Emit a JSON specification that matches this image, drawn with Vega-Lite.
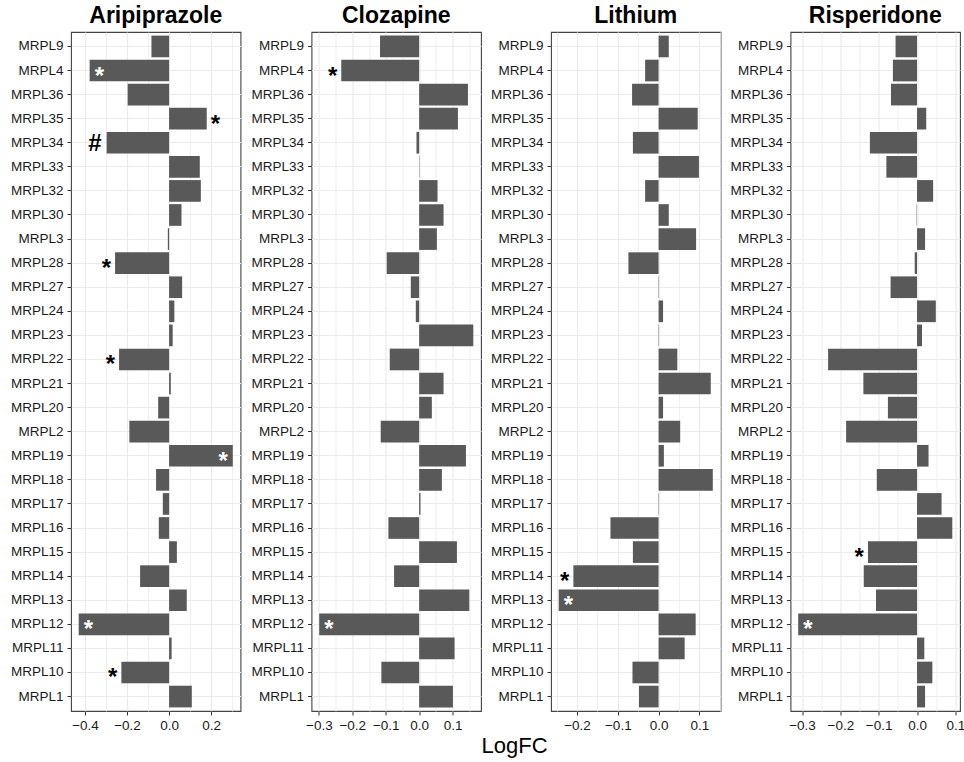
{
"$schema": "https://vega.github.io/schema/vega-lite/v6.json",
"background": "white",
"padding": {"left": 9, "top": 4, "right": 2, "bottom": 2},
"title": {"text": "LogFC", "orient": "bottom", "anchor": "middle", "frame": "bounds", "baseline": "top", "fontSize": 22, "fontWeight": "normal", "color": "black", "offset": 4, "dx": 27},
"data": {"values": [
{"drug":"Aripiprazole","gene":"MRPL9","logfc":-0.084,"sig":""},
{"drug":"Aripiprazole","gene":"MRPL4","logfc":-0.378,"sig":"*"},
{"drug":"Aripiprazole","gene":"MRPL36","logfc":-0.197,"sig":""},
{"drug":"Aripiprazole","gene":"MRPL35","logfc":0.179,"sig":"*"},
{"drug":"Aripiprazole","gene":"MRPL34","logfc":-0.297,"sig":"#"},
{"drug":"Aripiprazole","gene":"MRPL33","logfc":0.146,"sig":""},
{"drug":"Aripiprazole","gene":"MRPL32","logfc":0.151,"sig":""},
{"drug":"Aripiprazole","gene":"MRPL30","logfc":0.059,"sig":""},
{"drug":"Aripiprazole","gene":"MRPL3","logfc":-0.006,"sig":""},
{"drug":"Aripiprazole","gene":"MRPL28","logfc":-0.257,"sig":"*"},
{"drug":"Aripiprazole","gene":"MRPL27","logfc":0.062,"sig":""},
{"drug":"Aripiprazole","gene":"MRPL24","logfc":0.025,"sig":""},
{"drug":"Aripiprazole","gene":"MRPL23","logfc":0.017,"sig":""},
{"drug":"Aripiprazole","gene":"MRPL22","logfc":-0.238,"sig":"*"},
{"drug":"Aripiprazole","gene":"MRPL21","logfc":0.008,"sig":""},
{"drug":"Aripiprazole","gene":"MRPL20","logfc":-0.052,"sig":""},
{"drug":"Aripiprazole","gene":"MRPL2","logfc":-0.189,"sig":""},
{"drug":"Aripiprazole","gene":"MRPL19","logfc":0.303,"sig":"*"},
{"drug":"Aripiprazole","gene":"MRPL18","logfc":-0.062,"sig":""},
{"drug":"Aripiprazole","gene":"MRPL17","logfc":-0.030,"sig":""},
{"drug":"Aripiprazole","gene":"MRPL16","logfc":-0.049,"sig":""},
{"drug":"Aripiprazole","gene":"MRPL15","logfc":0.037,"sig":""},
{"drug":"Aripiprazole","gene":"MRPL14","logfc":-0.138,"sig":""},
{"drug":"Aripiprazole","gene":"MRPL13","logfc":0.084,"sig":""},
{"drug":"Aripiprazole","gene":"MRPL12","logfc":-0.430,"sig":"*"},
{"drug":"Aripiprazole","gene":"MRPL11","logfc":0.012,"sig":""},
{"drug":"Aripiprazole","gene":"MRPL10","logfc":-0.227,"sig":"*"},
{"drug":"Aripiprazole","gene":"MRPL1","logfc":0.108,"sig":""},
{"drug":"Clozapine","gene":"MRPL9","logfc":-0.117,"sig":""},
{"drug":"Clozapine","gene":"MRPL4","logfc":-0.233,"sig":"*"},
{"drug":"Clozapine","gene":"MRPL36","logfc":0.146,"sig":""},
{"drug":"Clozapine","gene":"MRPL35","logfc":0.116,"sig":""},
{"drug":"Clozapine","gene":"MRPL34","logfc":-0.008,"sig":""},
{"drug":"Clozapine","gene":"MRPL33","logfc":0.001,"sig":""},
{"drug":"Clozapine","gene":"MRPL32","logfc":0.055,"sig":""},
{"drug":"Clozapine","gene":"MRPL30","logfc":0.073,"sig":""},
{"drug":"Clozapine","gene":"MRPL3","logfc":0.053,"sig":""},
{"drug":"Clozapine","gene":"MRPL28","logfc":-0.097,"sig":""},
{"drug":"Clozapine","gene":"MRPL27","logfc":-0.025,"sig":""},
{"drug":"Clozapine","gene":"MRPL24","logfc":-0.010,"sig":""},
{"drug":"Clozapine","gene":"MRPL23","logfc":0.162,"sig":""},
{"drug":"Clozapine","gene":"MRPL22","logfc":-0.088,"sig":""},
{"drug":"Clozapine","gene":"MRPL21","logfc":0.073,"sig":""},
{"drug":"Clozapine","gene":"MRPL20","logfc":0.038,"sig":""},
{"drug":"Clozapine","gene":"MRPL2","logfc":-0.115,"sig":""},
{"drug":"Clozapine","gene":"MRPL19","logfc":0.140,"sig":""},
{"drug":"Clozapine","gene":"MRPL18","logfc":0.068,"sig":""},
{"drug":"Clozapine","gene":"MRPL17","logfc":0.004,"sig":""},
{"drug":"Clozapine","gene":"MRPL16","logfc":-0.092,"sig":""},
{"drug":"Clozapine","gene":"MRPL15","logfc":0.113,"sig":""},
{"drug":"Clozapine","gene":"MRPL14","logfc":-0.075,"sig":""},
{"drug":"Clozapine","gene":"MRPL13","logfc":0.150,"sig":""},
{"drug":"Clozapine","gene":"MRPL12","logfc":-0.299,"sig":"*"},
{"drug":"Clozapine","gene":"MRPL11","logfc":0.106,"sig":""},
{"drug":"Clozapine","gene":"MRPL10","logfc":-0.113,"sig":""},
{"drug":"Clozapine","gene":"MRPL1","logfc":0.101,"sig":""},
{"drug":"Lithium","gene":"MRPL9","logfc":0.025,"sig":""},
{"drug":"Lithium","gene":"MRPL4","logfc":-0.033,"sig":""},
{"drug":"Lithium","gene":"MRPL36","logfc":-0.065,"sig":""},
{"drug":"Lithium","gene":"MRPL35","logfc":0.096,"sig":""},
{"drug":"Lithium","gene":"MRPL34","logfc":-0.063,"sig":""},
{"drug":"Lithium","gene":"MRPL33","logfc":0.099,"sig":""},
{"drug":"Lithium","gene":"MRPL32","logfc":-0.033,"sig":""},
{"drug":"Lithium","gene":"MRPL30","logfc":0.025,"sig":""},
{"drug":"Lithium","gene":"MRPL3","logfc":0.092,"sig":""},
{"drug":"Lithium","gene":"MRPL28","logfc":-0.074,"sig":""},
{"drug":"Lithium","gene":"MRPL27","logfc":-0.001,"sig":""},
{"drug":"Lithium","gene":"MRPL24","logfc":0.011,"sig":""},
{"drug":"Lithium","gene":"MRPL23","logfc":0.001,"sig":""},
{"drug":"Lithium","gene":"MRPL22","logfc":0.046,"sig":""},
{"drug":"Lithium","gene":"MRPL21","logfc":0.128,"sig":""},
{"drug":"Lithium","gene":"MRPL20","logfc":0.011,"sig":""},
{"drug":"Lithium","gene":"MRPL2","logfc":0.053,"sig":""},
{"drug":"Lithium","gene":"MRPL19","logfc":0.013,"sig":""},
{"drug":"Lithium","gene":"MRPL18","logfc":0.133,"sig":""},
{"drug":"Lithium","gene":"MRPL17","logfc":0.001,"sig":""},
{"drug":"Lithium","gene":"MRPL16","logfc":-0.118,"sig":""},
{"drug":"Lithium","gene":"MRPL15","logfc":-0.063,"sig":""},
{"drug":"Lithium","gene":"MRPL14","logfc":-0.209,"sig":"*"},
{"drug":"Lithium","gene":"MRPL13","logfc":-0.245,"sig":"*"},
{"drug":"Lithium","gene":"MRPL12","logfc":0.091,"sig":""},
{"drug":"Lithium","gene":"MRPL11","logfc":0.064,"sig":""},
{"drug":"Lithium","gene":"MRPL10","logfc":-0.064,"sig":""},
{"drug":"Lithium","gene":"MRPL1","logfc":-0.048,"sig":""},
{"drug":"Risperidone","gene":"MRPL9","logfc":-0.056,"sig":""},
{"drug":"Risperidone","gene":"MRPL4","logfc":-0.063,"sig":""},
{"drug":"Risperidone","gene":"MRPL36","logfc":-0.068,"sig":""},
{"drug":"Risperidone","gene":"MRPL35","logfc":0.024,"sig":""},
{"drug":"Risperidone","gene":"MRPL34","logfc":-0.123,"sig":""},
{"drug":"Risperidone","gene":"MRPL33","logfc":-0.080,"sig":""},
{"drug":"Risperidone","gene":"MRPL32","logfc":0.042,"sig":""},
{"drug":"Risperidone","gene":"MRPL30","logfc":-0.001,"sig":""},
{"drug":"Risperidone","gene":"MRPL3","logfc":0.021,"sig":""},
{"drug":"Risperidone","gene":"MRPL28","logfc":-0.006,"sig":""},
{"drug":"Risperidone","gene":"MRPL27","logfc":-0.069,"sig":""},
{"drug":"Risperidone","gene":"MRPL24","logfc":0.049,"sig":""},
{"drug":"Risperidone","gene":"MRPL23","logfc":0.013,"sig":""},
{"drug":"Risperidone","gene":"MRPL22","logfc":-0.232,"sig":""},
{"drug":"Risperidone","gene":"MRPL21","logfc":-0.140,"sig":""},
{"drug":"Risperidone","gene":"MRPL20","logfc":-0.076,"sig":""},
{"drug":"Risperidone","gene":"MRPL2","logfc":-0.185,"sig":""},
{"drug":"Risperidone","gene":"MRPL19","logfc":0.030,"sig":""},
{"drug":"Risperidone","gene":"MRPL18","logfc":-0.105,"sig":""},
{"drug":"Risperidone","gene":"MRPL17","logfc":0.064,"sig":""},
{"drug":"Risperidone","gene":"MRPL16","logfc":0.092,"sig":""},
{"drug":"Risperidone","gene":"MRPL15","logfc":-0.128,"sig":"*"},
{"drug":"Risperidone","gene":"MRPL14","logfc":-0.139,"sig":""},
{"drug":"Risperidone","gene":"MRPL13","logfc":-0.107,"sig":""},
{"drug":"Risperidone","gene":"MRPL12","logfc":-0.310,"sig":"*"},
{"drug":"Risperidone","gene":"MRPL11","logfc":0.019,"sig":""},
{"drug":"Risperidone","gene":"MRPL10","logfc":0.040,"sig":""},
{"drug":"Risperidone","gene":"MRPL1","logfc":0.021,"sig":""}
]},
"spacing": 6.5,
"hconcat": [
 {
  "width": 169.5, "height": 679,
  "title": {"text": "Aripiprazole"},
  "transform": [{"filter": "datum.drug == 'Aripiprazole'"}],
  "encoding": {"y": {"field": "gene", "type": "nominal", "sort": ["MRPL9","MRPL4","MRPL36","MRPL35","MRPL34","MRPL33","MRPL32","MRPL30","MRPL3","MRPL28","MRPL27","MRPL24","MRPL23","MRPL22","MRPL21","MRPL20","MRPL2","MRPL19","MRPL18","MRPL17","MRPL16","MRPL15","MRPL14","MRPL13","MRPL12","MRPL11","MRPL10","MRPL1"], "scale": {"paddingInner": 0.1, "paddingOuter": 0.15}, "axis": {"title": null}}},
  "layer": [
   {"mark": {"type": "bar", "color": "#595959"},
    "encoding": {"x": {"field": "logfc", "type": "quantitative", "scale": {"nice": false, "zero": true, "padding": 7.7},
      "axis": {"title": null, "tickCount": 30, "values": [-0.4,-0.3,-0.2,-0.1,0,0.1,0.2,0.3],
        "labelOpacity": {"condition": {"test": "abs(round(datum.value*10)) % 2 == 0", "value": 1}, "value": 0},
        "tickOpacity": {"condition": {"test": "abs(round(datum.value*10)) % 2 == 0", "value": 1}, "value": 0},
        "gridWidth": {"condition": {"test": "abs(round(datum.value*10)) % 2 == 0", "value": 1.2}, "value": 0.8}}}}},
   {"mark": {"type": "rule", "color": "black", "strokeWidth": 1.5}, "encoding": {"x": {"datum": 0, "type": "quantitative"}}},
   {"transform": [{"filter": "datum.sig == '*' && datum.logfc < 0 && datum.logfc > -0.28"}],
    "mark": {"type": "text", "align": "right", "dx": -4, "dy": 6, "color": "black"},
    "encoding": {"x": {"field": "logfc", "type": "quantitative"}, "text": {"field": "sig"}}},
   {"transform": [{"filter": "datum.sig == '*' && datum.logfc > 0 && datum.logfc < 0.28"}],
    "mark": {"type": "text", "align": "left", "dx": 4, "dy": 6, "color": "black"},
    "encoding": {"x": {"field": "logfc", "type": "quantitative"}, "text": {"field": "sig"}}},
   {"transform": [{"filter": "datum.sig == '*' && datum.logfc <= -0.28"}],
    "mark": {"type": "text", "align": "left", "dx": 5, "dy": 6, "color": "white"},
    "encoding": {"x": {"field": "logfc", "type": "quantitative"}, "text": {"field": "sig"}}},
   {"transform": [{"filter": "datum.sig == '*' && datum.logfc >= 0.28"}],
    "mark": {"type": "text", "align": "right", "dx": -5, "dy": 6, "color": "white"},
    "encoding": {"x": {"field": "logfc", "type": "quantitative"}, "text": {"field": "sig"}}},
   {"transform": [{"filter": "datum.sig == '#'"}],
    "mark": {"type": "text", "align": "right", "dx": -5, "dy": 1, "color": "black"},
    "encoding": {"x": {"field": "logfc", "type": "quantitative"}, "text": {"field": "sig"}}}
  ]
 },
 {
  "width": 169.5, "height": 679,
  "title": {"text": "Clozapine"},
  "transform": [{"filter": "datum.drug == 'Clozapine'"}],
  "encoding": {"y": {"field": "gene", "type": "nominal", "sort": ["MRPL9","MRPL4","MRPL36","MRPL35","MRPL34","MRPL33","MRPL32","MRPL30","MRPL3","MRPL28","MRPL27","MRPL24","MRPL23","MRPL22","MRPL21","MRPL20","MRPL2","MRPL19","MRPL18","MRPL17","MRPL16","MRPL15","MRPL14","MRPL13","MRPL12","MRPL11","MRPL10","MRPL1"], "scale": {"paddingInner": 0.1, "paddingOuter": 0.15}, "axis": {"title": null}}},
  "layer": [
   {"mark": {"type": "bar", "color": "#595959"},
    "encoding": {"x": {"field": "logfc", "type": "quantitative", "scale": {"nice": false, "zero": true, "padding": 7.7},
      "axis": {"title": null, "tickCount": 30, "values": [-0.3,-0.25,-0.2,-0.15,-0.1,-0.05,0,0.05,0.1,0.15],
        "labelOpacity": {"condition": {"test": "abs(round(datum.value*20)) % 2 == 0", "value": 1}, "value": 0},
        "tickOpacity": {"condition": {"test": "abs(round(datum.value*20)) % 2 == 0", "value": 1}, "value": 0},
        "gridWidth": {"condition": {"test": "abs(round(datum.value*20)) % 2 == 0", "value": 1.2}, "value": 0.8}}}}},
   {"mark": {"type": "rule", "color": "black", "strokeWidth": 1.5}, "encoding": {"x": {"datum": 0, "type": "quantitative"}}},
   {"transform": [{"filter": "datum.sig == '*' && datum.logfc < 0 && datum.logfc > -0.25"}],
    "mark": {"type": "text", "align": "right", "dx": -4, "dy": 6, "color": "black"},
    "encoding": {"x": {"field": "logfc", "type": "quantitative"}, "text": {"field": "sig"}}},
   {"transform": [{"filter": "datum.sig == '*' && datum.logfc <= -0.25"}],
    "mark": {"type": "text", "align": "left", "dx": 5, "dy": 6, "color": "white"},
    "encoding": {"x": {"field": "logfc", "type": "quantitative"}, "text": {"field": "sig"}}}
  ]
 },
 {
  "width": 169.5, "height": 679,
  "title": {"text": "Lithium"},
  "transform": [{"filter": "datum.drug == 'Lithium'"}],
  "encoding": {"y": {"field": "gene", "type": "nominal", "sort": ["MRPL9","MRPL4","MRPL36","MRPL35","MRPL34","MRPL33","MRPL32","MRPL30","MRPL3","MRPL28","MRPL27","MRPL24","MRPL23","MRPL22","MRPL21","MRPL20","MRPL2","MRPL19","MRPL18","MRPL17","MRPL16","MRPL15","MRPL14","MRPL13","MRPL12","MRPL11","MRPL10","MRPL1"], "scale": {"paddingInner": 0.1, "paddingOuter": 0.15}, "axis": {"title": null}}},
  "layer": [
   {"mark": {"type": "bar", "color": "#595959"},
    "encoding": {"x": {"field": "logfc", "type": "quantitative", "scale": {"nice": false, "zero": true, "padding": 7.7},
      "axis": {"title": null, "tickCount": 30, "values": [-0.25,-0.2,-0.15,-0.1,-0.05,0,0.05,0.1,0.15],
        "labelOpacity": {"condition": {"test": "abs(round(datum.value*20)) % 2 == 0", "value": 1}, "value": 0},
        "tickOpacity": {"condition": {"test": "abs(round(datum.value*20)) % 2 == 0", "value": 1}, "value": 0},
        "gridWidth": {"condition": {"test": "abs(round(datum.value*20)) % 2 == 0", "value": 1.2}, "value": 0.8}}}}},
   {"mark": {"type": "rule", "color": "black", "strokeWidth": 1.5}, "encoding": {"x": {"datum": 0, "type": "quantitative"}}},
   {"transform": [{"filter": "datum.sig == '*' && datum.logfc < 0 && datum.logfc > -0.22"}],
    "mark": {"type": "text", "align": "right", "dx": -4, "dy": 6, "color": "black"},
    "encoding": {"x": {"field": "logfc", "type": "quantitative"}, "text": {"field": "sig"}}},
   {"transform": [{"filter": "datum.sig == '*' && datum.logfc <= -0.22"}],
    "mark": {"type": "text", "align": "left", "dx": 5, "dy": 6, "color": "white"},
    "encoding": {"x": {"field": "logfc", "type": "quantitative"}, "text": {"field": "sig"}}}
  ]
 },
 {
  "width": 169.5, "height": 679,
  "title": {"text": "Risperidone"},
  "transform": [{"filter": "datum.drug == 'Risperidone'"}],
  "encoding": {"y": {"field": "gene", "type": "nominal", "sort": ["MRPL9","MRPL4","MRPL36","MRPL35","MRPL34","MRPL33","MRPL32","MRPL30","MRPL3","MRPL28","MRPL27","MRPL24","MRPL23","MRPL22","MRPL21","MRPL20","MRPL2","MRPL19","MRPL18","MRPL17","MRPL16","MRPL15","MRPL14","MRPL13","MRPL12","MRPL11","MRPL10","MRPL1"], "scale": {"paddingInner": 0.1, "paddingOuter": 0.15}, "axis": {"title": null}}},
  "layer": [
   {"mark": {"type": "bar", "color": "#595959"},
    "encoding": {"x": {"field": "logfc", "type": "quantitative", "scale": {"nice": false, "zero": true, "padding": 7.7},
      "axis": {"title": null, "tickCount": 30, "values": [-0.3,-0.25,-0.2,-0.15,-0.1,-0.05,0,0.05,0.1],
        "labelOpacity": {"condition": {"test": "abs(round(datum.value*20)) % 2 == 0", "value": 1}, "value": 0},
        "tickOpacity": {"condition": {"test": "abs(round(datum.value*20)) % 2 == 0", "value": 1}, "value": 0},
        "gridWidth": {"condition": {"test": "abs(round(datum.value*20)) % 2 == 0", "value": 1.2}, "value": 0.8}}}}},
   {"mark": {"type": "rule", "color": "black", "strokeWidth": 1.5}, "encoding": {"x": {"datum": 0, "type": "quantitative"}}},
   {"transform": [{"filter": "datum.sig == '*' && datum.logfc < 0 && datum.logfc > -0.2"}],
    "mark": {"type": "text", "align": "right", "dx": -4, "dy": 6, "color": "black"},
    "encoding": {"x": {"field": "logfc", "type": "quantitative"}, "text": {"field": "sig"}}},
   {"transform": [{"filter": "datum.sig == '*' && datum.logfc <= -0.2"}],
    "mark": {"type": "text", "align": "left", "dx": 5, "dy": 6, "color": "white"},
    "encoding": {"x": {"field": "logfc", "type": "quantitative"}, "text": {"field": "sig"}}}
  ]
 }
],
"config": {
  "font": "Liberation Sans",
  "view": {"stroke": "#444444", "strokeWidth": 1.1},
  "title": {"fontSize": 23, "fontWeight": "bold", "color": "black", "anchor": "middle", "frame": "group", "baseline": "bottom", "offset": 4},
  "text": {"fontSize": 24, "fontWeight": "bold", "baseline": "middle"},
  "axisX": {"format": ".1f", "labelFontSize": 13.5, "labelColor": "#1a1a1a", "tickColor": "#333333", "tickSize": 4, "labelPadding": 3, "domain": false, "grid": true, "gridColor": "#ebebeb", "labelOverlap": false},
  "axisY": {"labelFontSize": 13.5, "labelColor": "#1a1a1a", "tickColor": "#333333", "tickSize": 4, "labelPadding": 4, "domain": false, "grid": true, "gridColor": "#ebebeb", "gridWidth": 1.2, "bandPosition": 0.5}
}
}
